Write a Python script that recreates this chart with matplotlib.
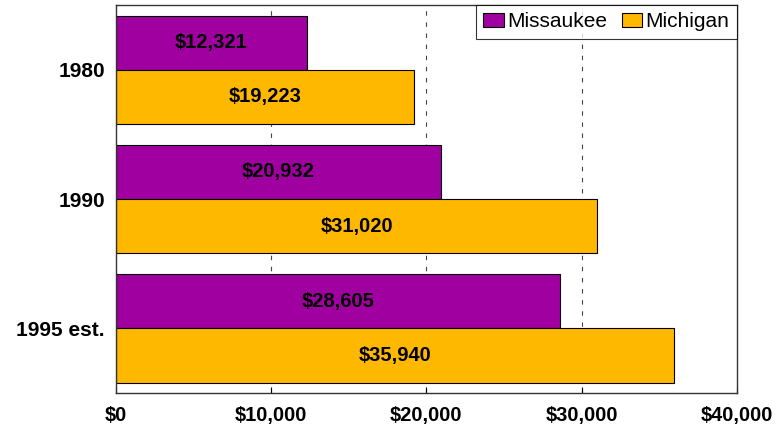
import numpy as np
import matplotlib.pyplot as plt

# Per capita income data
years = ["1980", "1990", "1995 est."]
missaukee = [12321, 20932, 28605]
michigan = [19223, 31020, 35940]
xticks = [0, 10000, 20000, 30000, 40000]

purple = "#A000A0"
orange = "#FFB800"

plt.rcParams['font.family'] = ['Liberation Sans', 'DejaVu Sans']

fig = plt.figure(figsize=(7.78, 4.30), dpi=100)
ax = fig.add_axes([0.149, 0.086, 0.798, 0.902])

pos = np.arange(len(years))
h = 0.42

b1 = ax.barh(pos - h / 2, missaukee, height=h, color=purple, edgecolor="black", linewidth=0.8, label="Missaukee")
b2 = ax.barh(pos + h / 2, michigan, height=h, color=orange, edgecolor="black", linewidth=0.8, label="Michigan")

for bars, vals in [(b1, missaukee), (b2, michigan)]:
    for bar, v in zip(bars, vals):
        ax.text(v / 2, bar.get_y() + bar.get_height() / 2, "${:,}".format(v),
                ha="center", va="center", fontsize=14.5, fontweight="bold", color="black")

ax.set_xlim(0, 40000)
ax.set_ylim(len(years) - 0.5, -0.5)
ax.set_yticks(pos)
ax.set_yticklabels(years, fontsize=15, fontweight="bold")
ax.set_xticks(xticks)
ax.set_xticklabels(["${:,}".format(t) for t in xticks], fontsize=14.5, fontweight="bold")
ax.tick_params(axis="x", direction="in", length=4, pad=9)
ax.tick_params(axis="y", length=0, pad=8)

for t in xticks[1:-1]:
    ax.axvline(t, color="#444444", linestyle=(0, (4, 6)), linewidth=0.8, zorder=0)

for s in ax.spines.values():
    s.set_color("#333333")
    s.set_linewidth(1.0)

leg = ax.legend(loc="upper right", ncol=2, fontsize=15, frameon=True, fancybox=False,
                edgecolor="black", handlelength=1.0, handleheight=0.7, handletextpad=0.15,
                columnspacing=0.7, borderpad=0.35, borderaxespad=0.0)
leg.get_frame().set_linewidth(0.8)

fig.savefig("out.png", dpi=100)
